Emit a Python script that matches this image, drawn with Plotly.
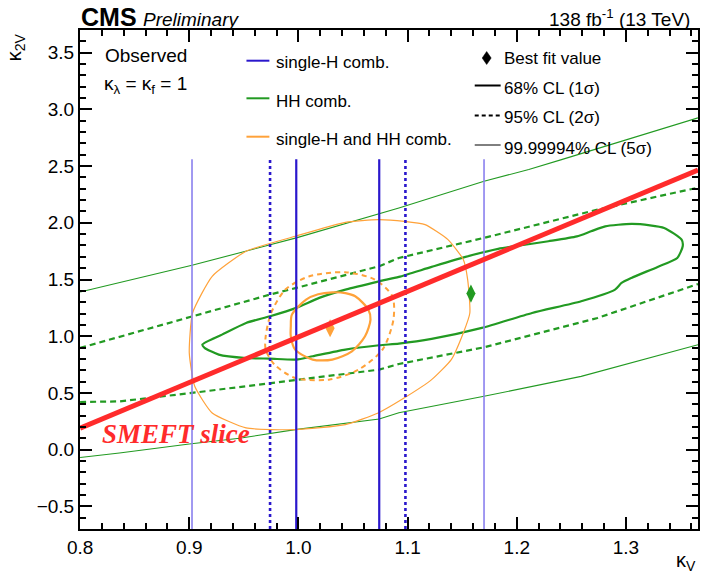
import plotly.graph_objects as go

# ---------------- data ----------------
# single-H comb. : kappa_V intervals (vertical contour lines)
sh_1s_kv = [0.998, 1.074]
sh_2s_kv = [0.974, 1.098]
sh_5s_kv = [0.9025, 1.170]
sh_k2v_span = [-0.7, 2.56]

# HH comb. 1 sigma (closed)
hh_1s_kv = [0.912, 0.930, 0.952, 0.974, 0.998, 1.019, 1.043, 1.074, 1.092, 1.122, 1.153, 1.183,
            1.198, 1.229, 1.255, 1.268, 1.281, 1.305, 1.322, 1.335, 1.351, 1.352, 1.347, 1.329,
            1.305, 1.296, 1.290, 1.259, 1.214, 1.168, 1.122, 1.092, 1.074, 1.043, 1.013, 0.998,
            0.974, 0.952, 0.927, 0.914, 0.912]
hh_1s_k2v = [0.926, 1.014, 1.117, 1.176, 1.250, 1.338, 1.411, 1.484, 1.523, 1.611, 1.699, 1.770,
             1.793, 1.837, 1.880, 1.925, 1.969, 1.990, 1.978, 1.955, 1.852, 1.793, 1.690, 1.611,
             1.514, 1.470, 1.411, 1.308, 1.205, 1.073, 0.976, 0.935, 0.920, 0.882, 0.823, 0.794,
             0.802, 0.808, 0.838, 0.897, 0.926]

# HH comb. 2 sigma (two open branches)
hh_2s_up_kv = [0.800, 0.9025, 0.974, 0.998, 1.074, 1.092, 1.170, 1.274, 1.366]
hh_2s_up_k2v = [0.897, 1.176, 1.367, 1.426, 1.617, 1.690, 1.867, 2.116, 2.310]
hh_2s_lo_kv = [0.800, 0.836, 0.9025, 0.974, 0.998, 1.074, 1.092, 1.170, 1.274, 1.366]
hh_2s_lo_k2v = [0.420, 0.425, 0.500, 0.586, 0.617, 0.705, 0.755, 0.902, 1.161, 1.460]

# HH comb. 5 sigma (two open branches)
hh_5s_up_kv = [0.800, 0.9025, 0.998, 1.074, 1.092, 1.170, 1.211, 1.241, 1.350, 1.366]
hh_5s_up_k2v = [1.390, 1.625, 1.867, 2.078, 2.130, 2.366, 2.470, 2.557, 2.880, 2.925]
hh_5s_lo_kv = [0.800, 0.836, 0.900, 0.946, 0.997, 1.074, 1.092, 1.170, 1.259, 1.366]
hh_5s_lo_k2v = [-0.070, -0.030, 0.050, 0.100, 0.176, 0.270, 0.325, 0.470, 0.646, 0.925]

# single-H and HH comb.
comb_1s_kv = [0.993, 0.994, 1.007, 1.018, 1.031, 1.043, 1.052, 1.064, 1.066, 1.061, 1.049, 1.031,
              1.013, 0.997, 0.993, 0.993]
comb_1s_k2v = [1.087, 1.190, 1.323, 1.370, 1.387, 1.380, 1.352, 1.235, 1.146, 0.999, 0.867, 0.794,
               0.794, 0.882, 0.999, 1.087]
comb_2s_kv = [0.970, 0.975, 0.988, 1.010, 1.043, 1.070, 1.086, 1.087, 1.077, 1.055, 1.028, 0.997,
              0.978, 0.970, 0.970]
comb_2s_k2v = [0.999, 1.205, 1.411, 1.528, 1.564, 1.499, 1.352, 1.146, 0.882, 0.705, 0.617, 0.632,
               0.750, 0.882, 0.999]
comb_5s_kv = [0.900, 0.903, 0.921, 0.952, 0.997, 1.043, 1.073, 1.097, 1.116, 1.137, 1.151, 1.155,
              1.157, 1.151, 1.140, 1.122, 1.096, 1.073, 1.043, 0.997, 0.952, 0.921, 0.905, 0.900]
comb_5s_k2v = [0.853, 1.205, 1.528, 1.749, 1.881, 2.004, 2.028, 2.013, 1.984, 1.852, 1.676, 1.499,
               1.205, 1.029, 0.794, 0.617, 0.450, 0.323, 0.220, 0.176, 0.191, 0.323, 0.558, 0.853]

# best fit values
bf_hh = (1.158, 1.376)
bf_comb = (1.029, 1.070)

# SMEFT slice line
smeft_kv = [0.800, 1.366]
smeft_k2v = [0.190, 2.465]

# axes
x_range = [0.7999, 1.366]
y_range = [-0.7, 3.7]

# ---------------- styles ----------------
BLUE = "#2a17cc"
BLUE_L = "#8a80ee"
GREEN = "#229a22"
ORANGE = "#ffa23a"
RED = "#ff2b2b"
FONT = "Liberation Sans, Arial, sans-serif"

W, H = 701, 576
ML, MR, MT, MB = 80, 1, 30, 47
PW, PH = W - ML - MR, H - MT - MB


def px(x):
    return (x - ML) / PW


def py(y):
    return (H - MB - y) / PH


fig = go.Figure()


def add_line(x, y, color, width, dash=None):
    fig.add_trace(go.Scatter(x=x, y=y, mode="lines",
                             line=dict(color=color, width=width, dash=dash),
                             showlegend=False, hoverinfo="skip"))


# HH contours
add_line(hh_5s_up_kv, hh_5s_up_k2v, GREEN, 1.1)
add_line(hh_5s_lo_kv, hh_5s_lo_k2v, GREEN, 1.1)
add_line(hh_2s_up_kv, hh_2s_up_k2v, GREEN, 2.2, "6px,4px")
add_line(hh_2s_lo_kv, hh_2s_lo_k2v, GREEN, 2.2, "6px,4px")
fig.add_trace(go.Scatter(x=hh_1s_kv, y=hh_1s_k2v, mode="lines",
                         line=dict(color=GREEN, width=2.2, shape="spline", smoothing=0.6),
                         showlegend=False, hoverinfo="skip"))

# combined contours
fig.add_trace(go.Scatter(x=comb_5s_kv, y=comb_5s_k2v, mode="lines",
                         line=dict(color=ORANGE, width=1.2, shape="spline", smoothing=0.5),
                         showlegend=False, hoverinfo="skip"))
fig.add_trace(go.Scatter(x=comb_2s_kv, y=comb_2s_k2v, mode="lines",
                         line=dict(color=ORANGE, width=2, dash="5px,4px", shape="spline", smoothing=0.8),
                         showlegend=False, hoverinfo="skip"))
fig.add_trace(go.Scatter(x=comb_1s_kv, y=comb_1s_k2v, mode="lines",
                         line=dict(color=ORANGE, width=2.2, shape="spline", smoothing=0.8),
                         showlegend=False, hoverinfo="skip"))

# single-H vertical lines
for v in sh_5s_kv:
    add_line([v, v], sh_k2v_span, BLUE_L, 1.6)
for v in sh_2s_kv:
    add_line([v, v], sh_k2v_span, BLUE, 2.6, "3px,3px")
for v in sh_1s_kv:
    add_line([v, v], sh_k2v_span, BLUE, 2.2)

# best fit markers
fig.add_trace(go.Scatter(x=[bf_comb[0]], y=[bf_comb[1]], mode="markers",
                         marker=dict(symbol="diamond-tall", size=13, color=ORANGE),
                         showlegend=False, hoverinfo="skip"))
fig.add_trace(go.Scatter(x=[bf_hh[0]], y=[bf_hh[1]], mode="markers",
                         marker=dict(symbol="diamond-tall", size=13, color=GREEN),
                         showlegend=False, hoverinfo="skip"))

# SMEFT slice
add_line(smeft_kv, smeft_k2v, RED, 5)

# ---------------- legend (keys + texts) ----------------
shapes = []
for yy, col in [(60.7, BLUE), (98.3, GREEN), (136.7, ORANGE)]:
    shapes.append(dict(type="line", xref="paper", yref="paper",
                       x0=px(247), x1=px(270), y0=py(yy), y1=py(yy),
                       line=dict(color=col, width=2)))
shapes.append(dict(type="path", xref="paper", yref="paper",
                   path=f"M {px(483.5)},{py(58)} L {px(488)},{py(51.5)} L {px(492.5)},{py(58)} L {px(488)},{py(64.5)} Z",
                   fillcolor="black", line=dict(color="black", width=0.5)))
shapes.append(dict(type="line", xref="paper", yref="paper", x0=px(476), x1=px(502),
                   y0=py(85.5), y1=py(85.5), line=dict(color="black", width=2)))
shapes.append(dict(type="line", xref="paper", yref="paper", x0=px(476), x1=px(502),
                   y0=py(115.5), y1=py(115.5), line=dict(color="black", width=2, dash="4px,3px")))
shapes.append(dict(type="line", xref="paper", yref="paper", x0=px(476), x1=px(502),
                   y0=py(145), y1=py(145), line=dict(color="black", width=1)))

ann = []


def text(x, y, s, size=17, anchor="left", **kw):
    ann.append(dict(x=px(x), y=py(y), xref="paper", yref="paper", text=s, showarrow=False,
                    xanchor=anchor, yanchor="middle",
                    font=dict(family=FONT, size=size, color="black"), **kw))


text(275, 63, "single-H comb.")
text(275, 101, "HH comb.")
text(275, 139, "single-H and HH comb.")
text(503, 59, "Best fit value")
text(503, 88, "68% CL (1σ)")
text(503, 118, "95% CL (2σ)")
text(503, 148, "99.99994% CL (5σ)")
text(103, 55, "Observed", size=19)
text(102, 85, "κ<sub>λ</sub> = κ<sub>f</sub> = 1", size=19)

# header
text(79, 17, "<b>CMS</b>", size=25)
text(141, 19, "<i>Preliminary</i>", size=19)
text(694, 18, "138 fb<sup>-1</sup> (13 TeV)", size=19, anchor="right")

# axis titles
text(700, 561, "κ<sub>V</sub>", size=20, anchor="right")
ann.append(dict(x=px(15), y=py(47), xref="paper", yref="paper", text="κ<sub>2V</sub>",
                showarrow=False, textangle=-90, xanchor="center", yanchor="middle",
                font=dict(family=FONT, size=20, color="black")))

# SMEFT slice label
ann.append(dict(x=0.888, y=0.14, xref="x", yref="y", text="<b><i>SMEFT slice</i></b>",
                showarrow=False, xanchor="center", yanchor="middle",
                font=dict(family="Liberation Serif, Times New Roman, serif", size=27, color=RED)))

axis_common = dict(
    showgrid=False, zeroline=False, showline=True, linecolor="black", linewidth=2,
    mirror="ticks", ticks="inside", ticklen=12, tickwidth=1.5, tickcolor="black",
    tickfont=dict(family=FONT, size=19, color="black"), tickformat=".1f",
)

fig.update_layout(
    width=W, height=H,
    margin=dict(l=ML, r=MR, t=MT, b=MB, pad=0),
    paper_bgcolor="white", plot_bgcolor="white",
    showlegend=False,
    xaxis=dict(range=x_range, tick0=0.8, dtick=0.1,
               minor=dict(tick0=0.8, dtick=0.02, ticklen=6, tickwidth=1.5, tickcolor="black", ticks="inside"),
               **axis_common),
    yaxis=dict(range=y_range, tick0=0.0, dtick=0.5,
               minor=dict(tick0=0.0, dtick=0.1, ticklen=6, tickwidth=1.5, tickcolor="black", ticks="inside"),
               **axis_common),
    shapes=shapes,
    annotations=ann,
)

fig.write_html("out.html")
